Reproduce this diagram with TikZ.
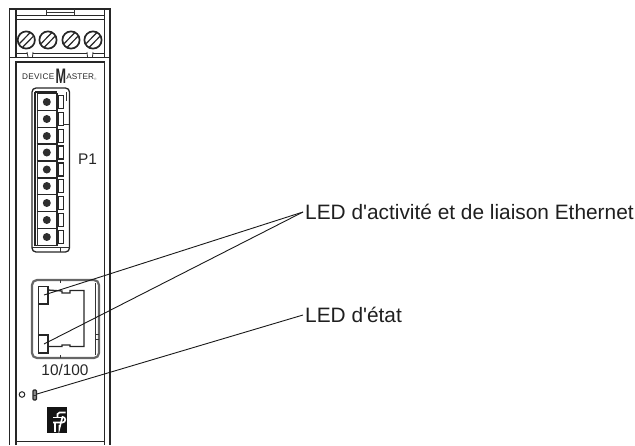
\documentclass[tikz,border=0pt]{standalone}
\usepackage{fontspec}
\setmainfont{Liberation Sans}
\newfontfamily\plainfont{Liberation Sans}
\tikzset{
 x=1pt,y=-1pt,
 thin line/.style={line width=.8pt,draw=black!80},
 mid line/.style={line width=1.3pt,draw=black!85},
 thick line/.style={line width=1.8pt,draw=black!85},
 leader/.style={line width=.9pt,draw=black!90},
 lab/.style={inner sep=0pt,inner xsep=2pt,anchor=west,font=\plainfont\fontsize{20.85}{22}\selectfont,text=black!88},
 small lab/.style={inner sep=0pt,font=\plainfont\fontsize{15.4}{17}\selectfont,text=black!85},
}
\begin{document}
\begin{tikzpicture}
\useasboundingbox (0,0) rectangle (635,445);
% housing
\draw[mid line] (9.5,445) -- (9.5,9) -- (110,9) -- (110,445);
\draw[mid line] (16,9) -- (16,57);
\draw[mid line] (104.5,9) -- (104.5,57);
\draw[thin line] (46,9) -- (46,12) -- (74,12) -- (74,9);
\draw[thin line] (46,12) -- (46,15) (74,12) -- (74,15);
\draw[thick line] (16,15.5) -- (104.5,15.5);
\draw[thick line] (16,19.5) -- (104.5,19.5);
\draw[thick line] (16,53.5) -- (27,53.5) (33,53.5) -- (87,53.5) (93,53.5) -- (104.5,53.5);
\draw[thin line] (27,52) -- (28,57) (33,52) -- (32.5,57) (87,52) -- (87.5,57) (93,52) -- (92.5,57);
\draw[mid line] (9.5,57.5) -- (110,57.5);
% screws
\foreach \sx in {26.3,48,71,93}{
 \draw[line width=1.7pt,draw=black!85] (\sx,40) circle (8.6);
 \draw[line width=1.2pt,draw=black!85] (\sx-6.8,43.5) -- (\sx+3.5,33);
 \draw[line width=1.2pt,draw=black!85] (\sx-3.5,47) -- (\sx+6.8,36.5);
}
% front panel
\draw[mid line] (16,445) -- (16,62) -- (104.5,62) -- (104.5,445);
\draw[mid line] (16,441.5) -- (104.5,441.5);
\node[inner sep=0pt,text=black!85,anchor=base west] (brand) at (22,79) {\plainfont\fontsize{8.2}{9}\selectfont D\kern.3pt E\kern.3pt V\kern.3pt I\kern.3pt C\kern.3pt E\kern1.5pt\raisebox{-4pt}{\scalebox{.6}[1]{\fontsize{21}{21}\selectfont\bfseries M}}\kern.1pt A\kern.1pt S\kern.1pt T\kern.1pt E\kern.1pt R\raisebox{-1pt}{\textcolor{black!50}{\fontsize{3.5}{3.5}\selectfont ®}}};
% connector P1
\draw[mid line,rounded corners=4pt] (32,88) rectangle (69.5,252);
\draw[thin line] (32,247) -- (69.5,247) (60,247) -- (60,252);
\draw[thick line] (35,92) -- (57,92);
\draw[mid line] (35,92) -- (35,245.5) -- (57,245.5);
\foreach \cy in {102,119,136,152.5,169.5,186,203,220,237}{
 \draw[thick line] (36.5,\cy-8.5) -- (57,\cy-8.5) -- (57,\cy+8.5) -- (36.5,\cy+8.5);
 \draw[thin line] (37,\cy-8.5) -- (37,\cy+8.5);
 \fill[black!82] (46.8,\cy) circle (4);
 \draw[mid line] (58.5,\cy-6.5) rectangle (63.5,\cy+6.5);
}
\draw[thin line] (66.5,92) -- (66.5,101);
\draw[thin line] (63,124) -- (69,124);
\node[small lab] (p1) at (87.5,159.5) {P1};
% RJ45
\draw[draw=black!60,rounded corners=5pt,line width=2.2pt] (32,280) rectangle (99,358);
\draw[thin line] (60,280) -- (60,283) (60,355) -- (60,358);
\draw[thin line] (95,283) -- (95,355);
\draw[thin line] (95,334) -- (99,334) (95,339) -- (99,339);
\draw[mid line] (48,290) -- (62,291) -- (62,293) -- (70,293) -- (70,290.5) -- (84,290.5) -- (84,346.5) -- (70,346.5) -- (70,345) -- (62,345) -- (62,346.5) -- (48,346.5);
\draw[thin line] (38,304) -- (38,335);
\draw[thick line,fill=white] (38.5,286.5) rectangle (48,304);
\draw[thick line,fill=white] (38.5,335) rectangle (48,353);
\coordinate (led1) at (44,295);
\coordinate (led2) at (44,344);
\node[small lab] (speed) at (65,370) {10/100};
% status LEDs
\draw[line width=1pt,draw=black!85] (22,394.5) circle (2.8);
\draw[mid line,fill=black!45,rounded corners=1pt] (33,390) rectangle (36.5,400);
\draw[thin line] (33,395) -- (36.5,395);
\coordinate (led3) at (37,394);
% logo
\fill[black!92] (46.5,407) rectangle (67,433);
\draw[white,line width=1.6pt] (65.5,412.5) -- (59.5,412.5) -- (57.5,414) -- (57.5,417.5);
\draw[white,line width=1.6pt] (53,417.5) -- (64.5,417.5);
\draw[white,line width=1.6pt] (53,422.5) -- (62.5,422.5) arc (90:-90:2.8) -- (59.5,428.1) -- (59.5,425);
\draw[white,line width=1.6pt] (54.8,422.5) -- (54.8,431.5);
% labels
\node[lab] (eth) at (303,212) {LED d'activité et de liaison Ethernet};
\node[lab] (state) at (303,315) {LED d'état};
\draw[leader] (eth.west) -- (led1);
\draw[leader] (eth.west) -- (led2);
\draw[leader] (state.west) -- (led3);
\end{tikzpicture}
\end{document}
